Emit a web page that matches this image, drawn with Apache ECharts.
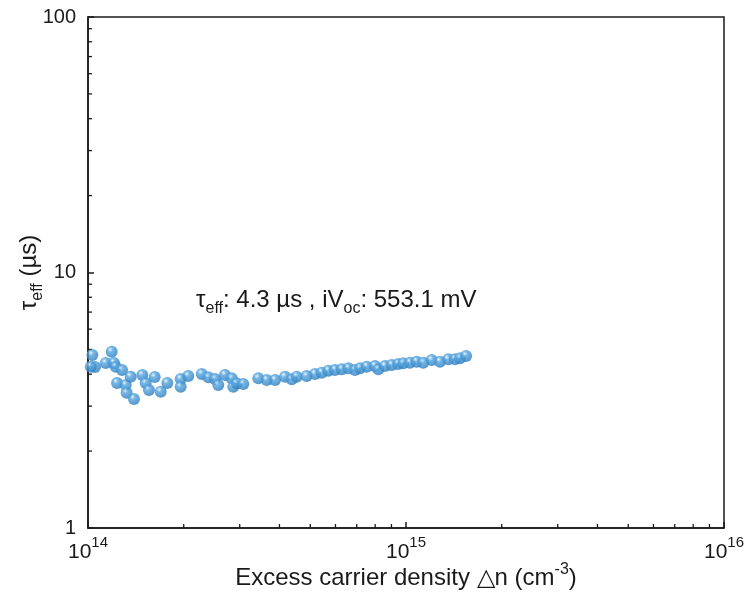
<!DOCTYPE html>
<html><head><meta charset="utf-8">
<script src="https://cdn.jsdelivr.net/npm/echarts@6/dist/echarts.min.js"></script>
<style>html,body{margin:0;padding:0;background:#fff}#c{width:749px;height:594px}</style>
</head><body><div id="c"></div>
<script>
// Excess carrier density (cm^-3)
const density = [
  1.032e14, 1.052e14, 1.02e14, 1.187e14, 1.137e14, 1.207e14, 1.222e14, 1.279e14, 1.234e14, 1.314e14,
  1.362e14, 1.323e14, 1.395e14, 1.482e14, 1.518e14, 1.555e14, 1.621e14, 1.693e14, 1.776e14, 1.956e14,
  1.956e14, 2.067e14, 2.279e14, 2.390e14, 2.508e14, 2.568e14, 2.696e14, 2.83e14, 2.863e14, 2.934e14,
  3.078e14, 3.432e14, 3.647e14, 3.874e14, 4.164e14, 4.371e14, 4.532e14, 4.872e14, 5.174e14, 5.432e14,
  5.697e14, 5.98e14, 6.281e14, 6.588e14, 6.914e14, 7.169e14, 7.525e14, 7.989e14, 8.182e14, 8.59e14,
  9.017e14, 9.458e14, 9.806e14, 1.029e15, 1.080e15, 1.133e15, 1.205e15, 1.279e15, 1.358e15, 1.426e15,
  1.479e15, 1.545e15
];
// Effective lifetime (µs)
const lifetime = [
  4.754, 4.267, 4.279, 4.898, 4.424, 4.424, 4.279, 4.154, 3.694, 3.628,
  3.910, 3.384, 3.198, 3.971, 3.694, 3.469, 3.899, 3.415, 3.694, 3.830,
  3.573, 3.935, 4.007, 3.889, 3.830, 3.628, 3.971, 3.854, 3.573, 3.684,
  3.661, 3.854, 3.796, 3.796, 3.910, 3.819, 3.910, 3.935, 4.007, 4.055,
  4.128, 4.154, 4.180, 4.217, 4.154, 4.217, 4.279, 4.305, 4.180, 4.305,
  4.345, 4.385, 4.412, 4.436, 4.476, 4.436, 4.545, 4.476, 4.574, 4.574,
  4.616, 4.713
];
const xMinorTicks = [2e14,3e14,4e14,5e14,6e14,7e14,8e14,9e14,2e15,3e15,4e15,5e15,6e15,7e15,8e15,9e15];
const yMinorTicks = [2,3,4,5,6,7,8,9,20,30,40,50,60,70,80,90];
const annotationText = 'τ{s|eff}: 4.3 µs , iV{s|oc}: 553.1 mV';

const FONT = 'Liberation Sans, Arial, sans-serif';
const INK = '#1a1a1a';
const chart = echarts.init(document.getElementById('c'));
const pts = density.map((d, i) => [d, lifetime[i]]);

chart.setOption({
  animation: false,
  backgroundColor: '#fff',
  grid: { left: 88, right: 25, top: 17, bottom: 66, containLabel: false, outerBoundsMode: 'none',
    show: true, borderColor: INK, borderWidth: 1.5, backgroundColor: 'transparent' },
  xAxis: {
    type: 'log', logBase: 10, min: 1e14, max: 1e16,
    name: 'Excess carrier density △n (cm{sup|-3})',
    nameLocation: 'middle', nameGap: 34, nameMoveOverlap: false,
    nameTextStyle: { fontFamily: FONT, fontSize: 24, color: INK,
      rich: { sup: { fontFamily: FONT, fontSize: 16, color: INK, verticalAlign: 'top', lineHeight: 32 } } },
    axisLine: { lineStyle: { color: INK, width: 1.5 } },
    axisTick: { inside: true, length: 6, lineStyle: { color: INK, width: 1.5 } },
    splitLine: { show: false },
    axisLabel: {
      margin: 7, color: INK, fontFamily: FONT,
      formatter: v => '{b|10}{e|' + Math.round(Math.log10(v)) + '}',
      rich: {
        b: { fontFamily: FONT, fontSize: 21, color: INK, lineHeight: 28, verticalAlign: 'bottom' },
        e: { fontFamily: FONT, fontSize: 15, color: INK, lineHeight: 28, verticalAlign: 'top' }
      }
    }
  },
  yAxis: {
    type: 'log', logBase: 10, min: 1, max: 100,
    name: 'τ{sub|eff} (µs)',
    nameLocation: 'middle', nameGap: 42, nameRotate: 90, nameMoveOverlap: false,
    nameTextStyle: { fontFamily: FONT, fontSize: 24, color: INK,
      rich: { sub: { fontFamily: FONT, fontSize: 16, color: INK, verticalAlign: 'bottom', lineHeight: 34 } } },
    axisLine: { lineStyle: { color: INK, width: 1.5 } },
    axisTick: { inside: true, length: 6, lineStyle: { color: INK, width: 1.5 } },
    splitLine: { show: false },
    axisLabel: { margin: 12, color: INK, fontFamily: FONT, fontSize: 20, formatter: v => String(Math.round(v)) }
  },
  graphic: [{
    type: 'text', left: 196, top: 288, z: 10,
    style: {
      text: annotationText, fill: INK, font: '24px ' + FONT,
      rich: { s: { fontFamily: FONT, fontSize: 16, fill: INK, verticalAlign: 'bottom', lineHeight: 34 } }
    }
  }],
  series: [
    {
      type: 'scatter', data: pts, symbolSize: 12, z: 5,
      itemStyle: {
        color: { type: 'radial', x: 0.38, y: 0.32, r: 0.7,
          colorStops: [{ offset: 0, color: '#e6f3fc' }, { offset: 0.3, color: '#55a5df' }, { offset: 1, color: '#2a7bbd' }] }
      }
    },
    {
      type: 'custom', silent: true, clip: false, z: 4,
      data: xMinorTicks.map(v => [v, 1]),
      renderItem: (params, api) => {
        const p = api.coord([api.value(0), api.value(1)]);
        return { type: 'line', shape: { x1: p[0], y1: p[1], x2: p[0], y2: p[1] - 4 }, style: { stroke: INK, lineWidth: 1.3 } };
      }
    },
    {
      type: 'custom', silent: true, clip: false, z: 4,
      data: yMinorTicks.map(v => [1e14, v]),
      renderItem: (params, api) => {
        const p = api.coord([api.value(0), api.value(1)]);
        return { type: 'line', shape: { x1: p[0], y1: p[1], x2: p[0] + 4, y2: p[1] }, style: { stroke: INK, lineWidth: 1.3 } };
      }
    }
  ]
});
</script></body></html>
